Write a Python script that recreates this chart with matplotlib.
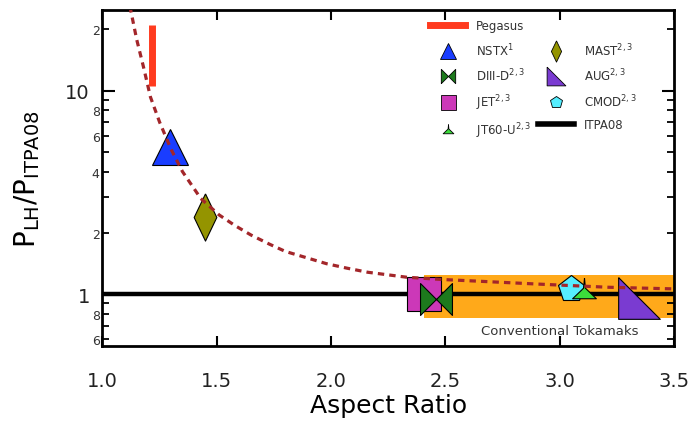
import matplotlib
matplotlib.use("Agg")
import matplotlib.pyplot as plt
from matplotlib.lines import Line2D
from matplotlib.ticker import FixedLocator, FuncFormatter

plt.rcParams["font.family"] = ["DejaVu Sans"]

# device points: aspect ratio vs P_LH / P_ITPA08
devices = ["NSTX", "MAST", "JET", "DIII-D", "CMOD", "JT60-U", "AUG"]
aspect_ratio = [1.297, 1.45, 2.405, 2.46, 3.05, 3.105, 3.345]
p_ratio = [5.3, 2.4, 1.0, 0.95, 1.06, 1.04, 0.955]
labels = {
    "NSTX": "NSTX$^{1}$",
    "MAST": "MAST$^{2,3}$",
    "JET": "JET$^{2,3}$",
    "DIII-D": "DIII-D$^{2,3}$",
    "CMOD": "CMOD$^{2,3}$",
    "JT60-U": "JT60-U$^{2,3}$",
    "AUG": "AUG$^{2,3}$",
}

# Pegasus range
pegasus_x = [1.218, 1.218]
pegasus_y = [10.6, 21.1]

# fitted trend
curve_x = [1.12, 1.15, 1.18, 1.21, 1.25, 1.30, 1.35, 1.43, 1.51, 1.58, 1.65,
           1.73, 1.80, 1.90, 1.98, 2.07, 2.16, 2.33, 2.48, 2.62, 2.90, 3.21, 3.50]
curve_y = [26.0, 17.8, 13.0, 9.3, 7.0, 5.15, 4.0, 2.95, 2.45, 2.17, 1.95,
           1.76, 1.62, 1.50, 1.41, 1.34, 1.28, 1.21, 1.18, 1.16, 1.12, 1.08, 1.06]

# ITPA08 scaling and conventional tokamak band
itpa_y = 1.0
tokamak_x = [2.405, 3.5]
tokamak_low = [0.76, 0.76]
tokamak_high = [1.24, 1.24]

xlim = (1.0, 3.5)
ylim = (0.557, 24.9)
x_ticks = [1.0, 1.5, 2.0, 2.5, 3.0, 3.5]
y_major = [1, 10]
y_minor = [0.6, 0.7, 0.8, 0.9, 2, 3, 4, 5, 6, 7, 8, 9, 20]
y_minor_labelled = [0.6, 0.8, 2, 4, 6, 8, 20]

bowtie = [(-1, -1), (-1, 1), (1, -1), (1, 1), (-1, -1)]
right_tri = [(-1, 1), (-1, -1), (1, -1), (-1, 1)]
thin_diamond = [(0, 1), (0.48, 0), (0, -1), (-0.48, 0), (0, 1)]
spiked_tri = [(0, 1), (0.07, 0.25), (0.9, -0.55), (-0.9, -0.55), (-0.07, 0.25), (0, 1)]

style = {
    "NSTX": dict(marker="^", color="#1a3dff", ms=26),
    "MAST": dict(marker=thin_diamond, color="#949400", ms=34),
    "JET": dict(marker="s", color="#cc38b8", ms=24),
    "DIII-D": dict(marker=bowtie, color="#1d7a1d", ms=23),
    "CMOD": dict(marker="p", color="#55eeff", ms=20),
    "JT60-U": dict(marker=spiked_tri, color="#3bdc3b", ms=19),
    "AUG": dict(marker=right_tri, color="#7a3bd1", ms=30),
}

fig = plt.figure(figsize=(6.98, 4.27), dpi=100)
ax = fig.add_axes([0.1468, 0.188, 0.8188, 0.786])

ax.fill_between(tokamak_x, tokamak_low, tokamak_high, color="#ffa91a", lw=0, zorder=1)
ax.axhline(itpa_y, color="black", lw=3.2, zorder=2)

for name, x, y in zip(devices, aspect_ratio, p_ratio):
    s = style[name]
    ax.plot(x, y, linestyle="none", marker=s["marker"], markersize=s["ms"],
            markerfacecolor=s["color"], markeredgecolor="black", markeredgewidth=0.8, zorder=3)

ax.plot(curve_x, curve_y, color="#a3262a", lw=2.3, dashes=(2.0, 1.6), zorder=4)
ax.plot(pegasus_x, pegasus_y, color="#ff3b1f", lw=5, solid_capstyle="butt", zorder=4)

ax.text(3.0, 0.66, "Conventional Tokamaks", fontsize=9.5, color="#333333",
        ha="center", va="center", zorder=5)

ax.set_yscale("log")
ax.set_xlim(*xlim)
ax.set_ylim(*ylim)
ax.set_xticks(x_ticks)
ax.set_xticklabels([f"{t:.1f}" for t in x_ticks])
ax.yaxis.set_major_locator(FixedLocator(y_major))
ax.yaxis.set_minor_locator(FixedLocator(y_minor))
ax.yaxis.set_major_formatter(FuncFormatter(lambda v, p: f"{v:g}"))


def minor_label(v, pos):
    for m in y_minor_labelled:
        if abs(v - m) < 1e-6:
            return f"{v:.1e}"[0]
    return ""


ax.yaxis.set_minor_formatter(FuncFormatter(minor_label))

ax.tick_params(axis="x", which="major", direction="in", top=True, length=7, width=1.5,
               labelsize=14, pad=18, labelcolor="#222222")
ax.tick_params(axis="y", which="major", direction="in", right=True, length=9, width=1.5,
               labelsize=14, pad=9, labelcolor="#222222")
ax.tick_params(axis="y", which="minor", direction="in", right=True, length=5, width=1.3,
               labelsize=9, pad=2, labelcolor="#333333")
for spine in ax.spines.values():
    spine.set_linewidth(2)

ax.set_xlabel("Aspect Ratio", fontsize=18, labelpad=2)
ax.set_ylabel("P$_{\\mathregular{LH}}$/P$_{\\mathregular{ITPA08}}$", fontsize=20, labelpad=17)

# legend
handles = [Line2D([], [], color="#ff3b1f", lw=5, label="Pegasus")]
for name in ["NSTX", "DIII-D", "JET", "JT60-U"]:
    s = style[name]
    handles.append(Line2D([], [], linestyle="none", marker=s["marker"], markersize=s["ms"] * 0.45,
                          markerfacecolor=s["color"], markeredgecolor="black",
                          markeredgewidth=0.6, label=labels[name]))
handles.append(Line2D([], [], linestyle="none", label=" "))
for name in ["MAST", "AUG", "CMOD"]:
    s = style[name]
    handles.append(Line2D([], [], linestyle="none", marker=s["marker"], markersize=s["ms"] * 0.45,
                          markerfacecolor=s["color"], markeredgecolor="black",
                          markeredgewidth=0.6, label=labels[name]))
handles.append(Line2D([], [], color="black", lw=4, label="ITPA08"))

ax.legend(handles=handles, ncol=2, loc="upper left", bbox_to_anchor=(0.573, 0.972),
          frameon=False, fontsize=8.5, handlelength=3.0, handletextpad=0.9,
          columnspacing=0.6, labelspacing=0.75, borderpad=0, borderaxespad=0,
          labelcolor="#333333")

fig.savefig("out.png", dpi=100)
